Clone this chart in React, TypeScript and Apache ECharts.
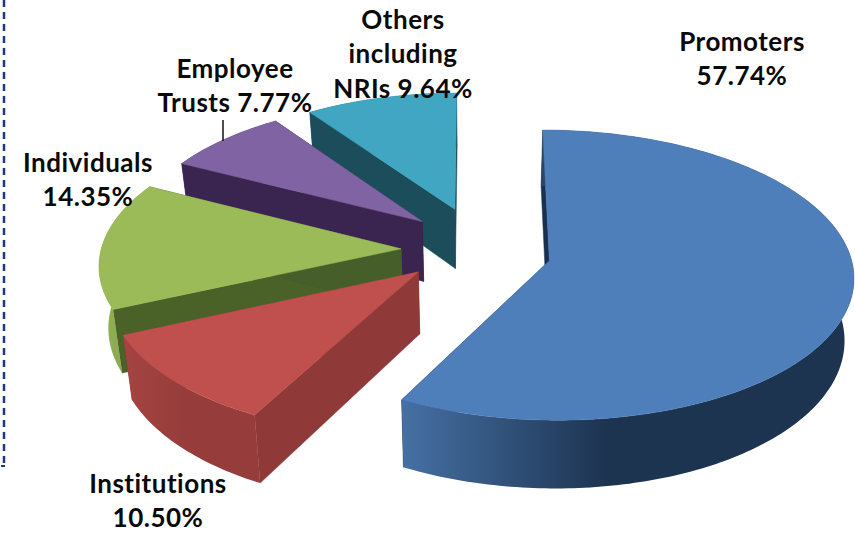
import React, { useEffect, useRef } from "react";
import * as echarts from "echarts";

const sliceNames = ["Promoters", "Institutions", "Individuals", "Employee Trusts", "Others including NRIs"];
const sliceValues = [57.74, 10.5, 14.35, 7.77, 9.64];
const labelLines = [
  ["Promoters", "57.74%"],
  ["Institutions", "10.50%"],
  ["Individuals", "14.35%"],
  ["Employee", "Trusts 7.77%"],
  ["Others", "including", "NRIs 9.64%"],
];
const labelCenters = [[742, 58], [158, 500], [88, 179], [235, 85], [403, 53]];
const topColors = ["#4f7fbb", "#bf504d", "#9bbb59", "#8063a2", "#41a6c2"];
const wallStart = ["#193050", "#8f3a38", "#4a6128", "#3a2450", "#1c4d5b"];
const wallEnd = ["#193050", "#8f3a38", "#465f2a", "#3a2450", "#1c4d5b"];
const arcLeft = ["#4670a4", "#a54442", "#93b154", "#3a2450", "#1c4d5b"];
const arcRight = ["#1d3451", "#963d3b", "#8aa84e", "#3a2450", "#1c4d5b"];
const drawOrder = [4, 3, 2, 1, 0];

const CX = 476, CY = 250, AX = 300, AY = 141.5, K = 0.099, EX = 0.243, EY = 0.31, DEPTH = 61, SHRINK = 0.025;
const LINE_GAP = 34.5;
const sliceRadius = [1, 1.01, 1, 0.97, 0.95];
const sliceExplodeX = [1.03, 1.07, 1.03, 1, 1];
const sliceExplodeY = [1, 0.72, 1, 1, 1];

const total = sliceValues.reduce((a, b) => a + b, 0);

function project(X: number, Y: number) {
  const w = 1 / (1 + K * Y);
  return [CX + AX * X * w, CY - AY * Y * w, w];
}
function lower(p: number[]) {
  return [p[0] + (CX - p[0]) * SHRINK, p[1] + DEPTH * p[2]];
}

function renderSlice(params: any, api: any) {
  const i = drawOrder[params.dataIndex];
  const value = api.value(0);
  const before = api.value(1);
  const a0 = (before / total) * Math.PI * 2;
  const a1 = ((before + value) / total) * Math.PI * 2;
  const mid = (a0 + a1) / 2;
  const ox = EX * sliceExplodeX[i] * Math.sin(mid);
  const oy = EY * sliceExplodeY[i] * Math.cos(mid);
  const r = sliceRadius[i];
  const apex = project(ox, oy);
  const arc: number[][] = [];
  const n = Math.max(8, Math.ceil((a1 - a0) / (Math.PI / 180)));
  for (let k = 0; k <= n; k++) {
    const a = a0 + ((a1 - a0) * k) / n;
    arc.push(project(ox + r * Math.sin(a), oy + r * Math.cos(a)));
  }
  const low = arc.map(lower);
  const apexLow = lower(apex);
  const xy = (p: number[]) => [p[0], p[1]];
  const poly = (points: number[][], fill: any) => ({
    type: "polygon",
    shape: { points },
    style: { fill, stroke: typeof fill === "string" ? fill : "none", lineWidth: 0.5 },
  });
  const arcFill = new echarts.graphic.LinearGradient(0, 0, 1, 0, [
    { offset: 0, color: arcLeft[i] },
    { offset: 0.45, color: arcRight[i] },
    { offset: 1, color: arcRight[i] },
  ]);
  return {
    type: "group",
    children: [
      poly([xy(apex), xy(arc[0]), low[0], apexLow], wallStart[i]),
      poly([xy(apex), xy(arc[n]), low[n], apexLow], wallEnd[i]),
      poly([...arc.map(xy), ...low.slice().reverse()], arcFill),
      poly([xy(apex), ...arc.map(xy)], topColors[i]),
    ],
  };
}

export default function App() {
  const ref = useRef<HTMLDivElement>(null);
  useEffect(() => {
    document.body.style.margin = "0";
    const chart = echarts.init(ref.current!, null, { renderer: "svg" });
    const cumulative = sliceValues.map((_, i) => sliceValues.slice(0, i).reduce((a, b) => a + b, 0));
    const textEls = labelLines.flatMap((lines, i) =>
      lines.map((line, j) => ({
        type: "text",
        x: labelCenters[i][0],
        y: labelCenters[i][1] + (j - (lines.length - 1) / 2) * LINE_GAP,
        z: 10,
        style: {
          text: line,
          fill: "#0a0a0a",
          font: "bold 26px Lato",
          align: "center",
          verticalAlign: "middle",
        },
      }))
    );
    chart.setOption({
      animation: false,
      backgroundColor: "#ffffff",
      tooltip: { show: false },
      graphic: [
        ...textEls,
        { type: "line", z: 10, shape: { x1: 223, y1: 120, x2: 223, y2: 141 }, style: { stroke: "#111", lineWidth: 1.5 } },
        { type: "line", z: 10, shape: { x1: 4, y1: 0, x2: 4, y2: 465 }, style: { stroke: "#1f3a7a", lineWidth: 2.5, lineDash: [7, 5] } },
        { type: "line", z: 10, shape: { x1: 1, y1: 466, x2: 5, y2: 466 }, style: { stroke: "#1f3a7a", lineWidth: 2 } },
      ],
      series: [
        {
          type: "custom",
          coordinateSystem: "none",
          renderItem: renderSlice,
          clip: false,
          silent: true,
          data: drawOrder.map((i) => ({ name: sliceNames[i], value: [sliceValues[i], cumulative[i]] })),
        },
      ],
    });
    return () => chart.dispose();
  }, []);
  return (
    <div
      ref={ref}
      style={{
        position: "fixed",
        left: 0,
        top: 0,
        width: 855,
        height: 533,
        letterSpacing: "0.5px",
        fontVariantLigatures: "none",
      }}
    />
  );
}
